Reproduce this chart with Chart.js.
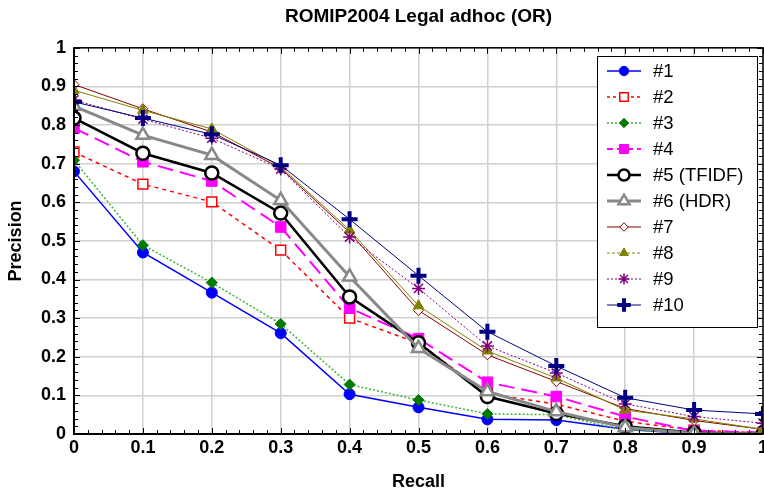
<!DOCTYPE html>
<html>
<head>
<meta charset="utf-8">
<script src="https://cdn.jsdelivr.net/npm/chart.js@4.4.1/dist/chart.umd.min.js"></script>
<style>
  html, body { margin: 0; padding: 0; background: #fff; }
  #chart { display: block; }
</style>
</head>
<body>
<canvas id="chart" width="764" height="491"></canvas>
<script>
// recall levels (x) and tick labels
var recall = [0, 0.1, 0.2, 0.3, 0.4, 0.5, 0.6, 0.7, 0.8, 0.9, 1];
var xTickLabels = ['0', '0.1', '0.2', '0.3', '0.4', '0.5', '0.6', '0.7', '0.8', '0.9', '1'];
var yTickLabels = ['0', '0.1', '0.2', '0.3', '0.4', '0.5', '0.6', '0.7', '0.8', '0.9', '1'];

var runNames = ['#1', '#2', '#3', '#4', '#5 (TFIDF)', '#6 (HDR)', '#7', '#8', '#9', '#10'];

// precision per run
var run1 = [0.68, 0.47, 0.366, 0.261, 0.103, 0.069, 0.038, 0.036, 0.012, 0, 0];
var run2 = [0.73, 0.647, 0.601, 0.476, 0.300, 0.235, 0.105, 0.077, 0.033, 0.010, 0.003];
var run3 = [0.709, 0.489, 0.392, 0.285, 0.128, 0.088, 0.052, 0.050, 0.010, 0.003, 0];
var run4 = [0.792, 0.705, 0.655, 0.536, 0.326, 0.247, 0.134, 0.097, 0.045, 0.008, 0.004];
var run5 = [0.818, 0.727, 0.676, 0.572, 0.355, 0.236, 0.097, 0.053, 0.020, 0.003, 0];
var run6 = [0.849, 0.774, 0.722, 0.605, 0.407, 0.222, 0.110, 0.058, 0.017, 0.001, 0];
var run7 = [0.905, 0.842, 0.782, 0.688, 0.522, 0.320, 0.205, 0.136, 0.066, 0.035, 0.012];
var run8 = [0.890, 0.838, 0.790, 0.692, 0.528, 0.332, 0.215, 0.145, 0.062, 0.039, 0.012];
var run9 = [0.865, 0.815, 0.766, 0.686, 0.510, 0.377, 0.228, 0.158, 0.078, 0.045, 0.028];
var run10 = [0.860, 0.818, 0.776, 0.696, 0.556, 0.410, 0.265, 0.176, 0.094, 0.062, 0.052];

var runs = [run1, run2, run3, run4, run5, run6, run7, run8, run9, run10];

var FONT = "'Liberation Sans', Arial, sans-serif";

// line / marker look for each run
var styles = [
  { line: '#0000FF', mark: '#0000FF', fill: '#0000FF', width: 1.5, dash: [], point: 'circle', r: 5.5, bw: 1 },
  { line: '#FF0000', mark: '#FF0000', fill: '#FFFFFF', width: 1.5, dash: [4, 4], point: 'rect', r: 7, bw: 1.5 },
  { line: '#3CB33C', mark: '#007A00', fill: '#007A00', width: 1.5, dash: [2, 2], point: 'rectRot', r: 5.5, bw: 1 },
  { line: '#FF00FF', mark: '#FF00FF', fill: '#FF00FF', width: 2, dash: [16, 7], point: 'rect', r: 7.5, bw: 1 },
  { line: '#000000', mark: '#000000', fill: '#FFFFFF', width: 2.5, dash: [], point: 'circle', r: 6.5, bw: 2.5 },
  { line: '#888888', mark: '#888888', fill: '#FFFFFF', width: 3, dash: [], point: 'triangle', r: 7.5, bw: 2.5 },
  { line: '#8B0000', mark: '#8B0000', fill: '#FFFFFF', width: 1, dash: [], point: 'rectRot', r: 5, bw: 1 },
  { line: '#808000', mark: '#808000', fill: '#808000', width: 1, dash: [], point: 'triangle', r: 6, bw: 1 },
  { line: '#800080', mark: '#800080', fill: '#800080', width: 1, dash: [2, 2], point: 'star', r: 6.5, bw: 1.5 },
  { line: '#000080', mark: '#000080', fill: '#000080', width: 1, dash: [], point: 'cross', r: 8, bw: 4 }
];

var legendDash = [[], [3, 3], [2, 2], [6, 4], [], [], [], [3, 2], [2, 2], []];

var datasets = runs.map(function (vals, i) {
  var s = styles[i];
  return {
    label: runNames[i],
    data: vals.map(function (v, j) { return { x: recall[j], y: v }; }),
    borderColor: s.line,
    borderWidth: s.width,
    borderDash: s.dash,
    pointStyle: s.point,
    pointRadius: s.r,
    pointBorderWidth: s.bw,
    pointBorderColor: s.mark,
    pointBackgroundColor: s.fill,
    fill: false,
    tension: 0,
    order: 10 - i
  };
});

// minor ticks, frame on all four sides
var framePlugin = {
  id: 'frame',
  afterDatasetsDraw: function (chart) {
    var ctx = chart.ctx, a = chart.chartArea;
    var xs = chart.scales.x, ys = chart.scales.y;
    ctx.save();
    ctx.strokeStyle = '#000';
    ctx.lineWidth = 1;
    ctx.beginPath();
    for (var k = 0; k <= 50; k++) {
      var len = k % 5 === 0 ? 6 : 4;
      var px = Math.round(xs.getPixelForValue(k * 0.02)) + 0.5;
      var py = Math.round(ys.getPixelForValue(k * 0.02)) + 0.5;
      ctx.moveTo(px, a.bottom); ctx.lineTo(px, a.bottom - len);
      ctx.moveTo(px, a.top); ctx.lineTo(px, a.top + len);
      ctx.moveTo(a.left, py); ctx.lineTo(a.left + len, py);
      ctx.moveTo(a.right, py); ctx.lineTo(a.right - len, py);
    }
    ctx.stroke();
    ctx.lineWidth = 1.5;
    ctx.strokeRect(a.left, a.top, a.right - a.left, a.bottom - a.top);
    ctx.lineWidth = 2;
    ctx.beginPath();
    ctx.moveTo(a.left, a.top); ctx.lineTo(a.left, a.bottom); ctx.lineTo(a.right, a.bottom);
    ctx.stroke();
    ctx.restore();
  }
};

// boxed legend inside the plot, line sample + marker
var boxLegend = {
  id: 'boxLegend',
  afterDraw: function (chart) {
    var ctx = chart.ctx;
    var bx = 597, by = 56, bw = 160, bh = 271;
    ctx.save();
    ctx.fillStyle = '#fff';
    ctx.fillRect(bx, by, bw, bh);
    ctx.strokeStyle = '#000';
    ctx.lineWidth = 1;
    ctx.strokeRect(bx + 0.5, by + 0.5, bw, bh);
    chart.data.datasets.forEach(function (ds, i) {
      var s = styles[i];
      var y = by + 15 + i * 26;
      ctx.strokeStyle = s.line;
      ctx.lineWidth = s.width;
      ctx.setLineDash(legendDash[i]);
      ctx.beginPath();
      ctx.moveTo(607, y); ctx.lineTo(641, y);
      ctx.stroke();
      ctx.setLineDash([]);
      ctx.fillStyle = s.fill;
      ctx.strokeStyle = s.mark;
      ctx.lineWidth = s.bw;
      Chart.helpers.drawPoint(ctx, {
        pointStyle: s.point, radius: s.r * 0.85, rotation: 0, borderWidth: s.bw
      }, 624, y);
      ctx.fillStyle = '#000';
      ctx.font = '18.5px ' + FONT;
      ctx.textBaseline = 'middle';
      ctx.textAlign = 'left';
      ctx.fillText(ds.label, 653, y + 1);
    });
    ctx.restore();
  }
};

new Chart(document.getElementById('chart').getContext('2d'), {
  type: 'line',
  data: { datasets: datasets },
  plugins: [framePlugin, boxLegend],
  options: {
    responsive: false,
    animation: false,
    devicePixelRatio: 1,
    layout: { autoPadding: false, padding: { left: 0, right: 1, top: 0, bottom: 0 } },
    plugins: {
      legend: { display: false },
      tooltip: { enabled: false },
      title: {
        display: true,
        fullSize: false,
        text: 'ROMIP2004 Legal adhoc (OR)',
        color: '#000',
        font: { family: FONT, size: 19, weight: 'bold', lineHeight: 1.2 },
        padding: { top: 5, bottom: 20 }
      }
    },
    scales: {
      x: {
        type: 'linear',
        min: 0,
        max: 1,
        afterFit: function (s) { s.height = 57; s.paddingLeft = 0; s.paddingRight = 0; },
        ticks: {
          stepSize: 0.1,
          padding: 3,
          color: '#000',
          font: { family: FONT, size: 18, weight: 'bold' },
          maxRotation: 0,
          autoSkip: false,
          callback: function (v) { return xTickLabels[Math.round(v * 10)]; }
        },
        grid: { color: '#D0D0D0', lineWidth: 1.5, drawTicks: false },
        border: { display: false },
        title: {
          display: true,
          text: 'Recall',
          color: '#000',
          font: { family: FONT, size: 18, weight: 'bold', lineHeight: 1 },
          padding: { top: 0, bottom: 0 }
        }
      },
      y: {
        min: 0,
        max: 1,
        afterFit: function (s) { s.width = 74; s.paddingTop = 0; s.paddingBottom = 0; },
        ticks: {
          stepSize: 0.1,
          padding: 8,
          color: '#000',
          font: { family: FONT, size: 18, weight: 'bold' },
          autoSkip: false,
          callback: function (v) { return yTickLabels[Math.round(v * 10)]; }
        },
        grid: { color: '#D0D0D0', lineWidth: 1.5, drawTicks: false },
        border: { display: false },
        title: {
          display: true,
          text: 'Precision',
          color: '#000',
          font: { family: FONT, size: 18, weight: 'bold', lineHeight: 1 },
          padding: { top: 7, bottom: 0 }
        }
      }
    }
  }
});
</script>
</body>
</html>
